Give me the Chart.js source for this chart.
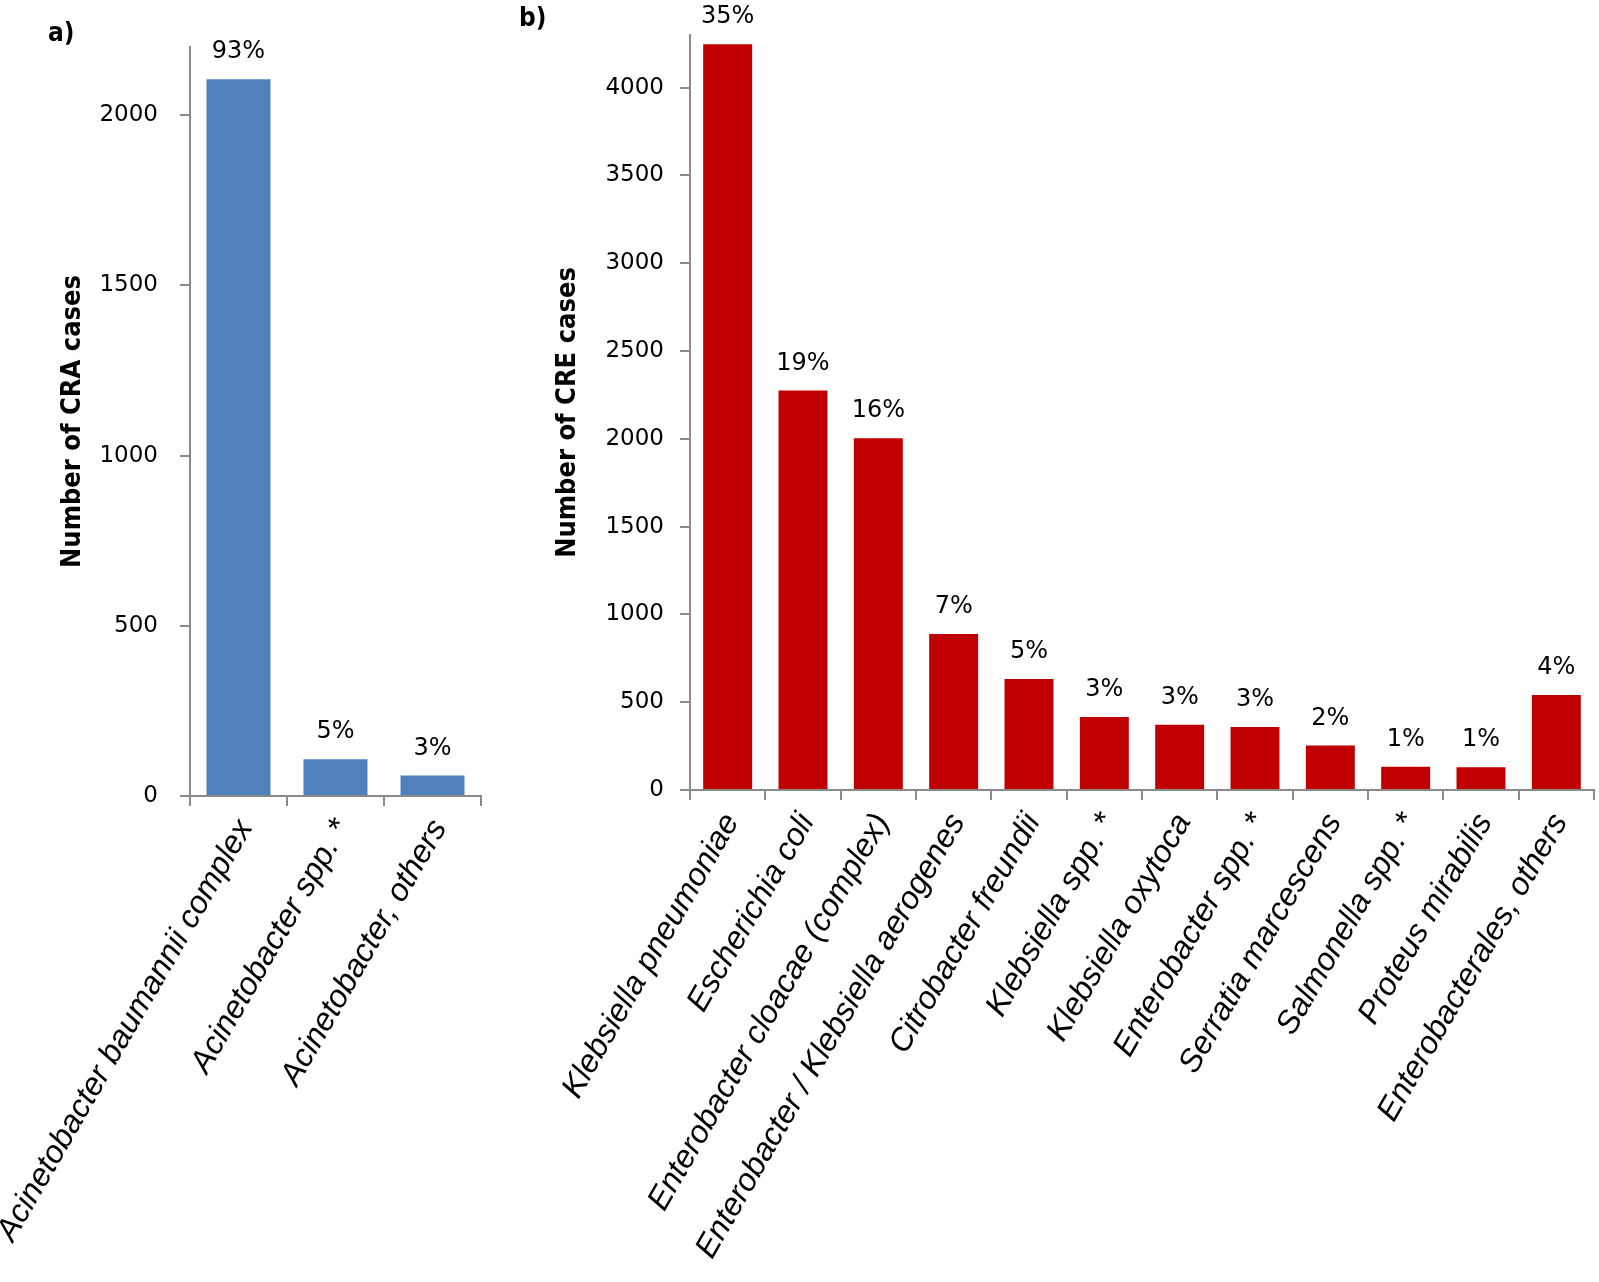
<!DOCTYPE html>
<html>
<head>
<meta charset="utf-8">
<script src="https://cdn.jsdelivr.net/npm/chart.js@4.4.1/dist/chart.umd.min.js"></script>
<style>
  body { margin: 0; background: #fff; }
  #wrap { position: relative; width: 1599px; height: 1282px; }
  canvas { position: absolute; top: 0; }
  #craChart { left: 0; }
  #creChart { left: 500px; }
  .panel { position: absolute; line-height: 1; font: bold 26px "DejaVu Sans Condensed", "DejaVu Sans", sans-serif; }
</style>
</head>
<body>
<div id="wrap">
  <canvas id="craChart" width="500" height="1282"></canvas>
  <canvas id="creChart" width="1099" height="1282"></canvas>
  <div class="panel" style="left:48px; top:17px;">a)</div>
  <div class="panel" style="left:519px; top:2px;">b)</div>
</div>
<script>
// a) carbapenem-resistant Acinetobacter
const craLabels = ['Acinetobacter baumannii complex', 'Acinetobacter spp. *', 'Acinetobacter, others'];
const craCases = [2105, 108, 60];
const craPct = ['93%', '5%', '3%'];

// b) carbapenem-resistant Enterobacterales
const creLabels = [
    'Klebsiella pneumoniae', 'Escherichia coli', 'Enterobacter cloacae (complex)',
    'Enterobacter / Klebsiella aerogenes', 'Citrobacter freundii', 'Klebsiella spp. *',
    'Klebsiella oxytoca', 'Enterobacter spp. *', 'Serratia marcescens',
    'Salmonella spp. *', 'Proteus mirabilis', 'Enterobacterales, others'
];
const creCases = [4247, 2275, 2003, 888, 632, 416, 372, 359, 253, 133, 129, 541];
const crePct = ['35%', '19%', '16%', '7%', '5%', '3%', '3%', '3%', '2%', '1%', '1%', '4%'];

const yTicks = [0, 500, 1000, 1500, 2000, 2500, 3000, 3500, 4000];

const axisGray = '#8a8a8a';

// percentage text above every bar
const pctLabelPlugin = {
    id: 'pctLabels',
    afterDatasetsDraw(chart, args, opts) {
        const ctx = chart.ctx;
        const bars = chart.getDatasetMeta(0).data;
        ctx.save();
        ctx.font = '24px "DejaVu Sans", sans-serif';
        ctx.fillStyle = '#000';
        ctx.textAlign = 'center';
        ctx.textBaseline = 'alphabetic';
        bars.forEach((bar, i) => {
            ctx.fillText(opts.labels[i], bar.x, bar.y - 21);
        });
        ctx.restore();
    }
};

function barChart(canvasId, labels, values, pct, color, yMax, yTitle, p) {
    return new Chart(document.getElementById(canvasId), {
        type: 'bar',
        data: {
            labels: labels,
            datasets: [{
                data: values,
                backgroundColor: color,
                barPercentage: 1,
                categoryPercentage: p.barShare
            }]
        },
        options: {
            responsive: false,
            animation: false,
            layout: { padding: { top: p.top, right: p.right, left: 0, bottom: 0 } },
            plugins: {
                legend: { display: false },
                tooltip: { enabled: false },
                pctLabels: { labels: pct }
            },
            scales: {
                x: {
                    offset: true,
                    ticks: {
                        autoSkip: false, minRotation: 60, maxRotation: 60, padding: 7, labelOffset: p.labelShift,
                        color: '#000',
                        font: { family: 'Liberation Sans', style: 'italic', size: 32 }
                    },
                    grid: { offset: true, drawOnChartArea: false, tickLength: 10, color: axisGray, lineWidth: 2 },
                    border: { display: true, color: axisGray, width: 2 },
                    afterFit: s => { s.height = 1282 - p.bottom; s.paddingLeft = 0; s.paddingRight = 0; }
                },
                y: {
                    min: 0,
                    max: yMax,
                    afterBuildTicks: s => { s.ticks = yTicks.filter(v => v <= yMax).map(v => ({ value: v })); },
                    ticks: {
                        padding: p.tickPad, color: '#000', font: { family: 'DejaVu Sans', size: 23 },
                        callback: v => String(v)
                    },
                    grid: { drawOnChartArea: false, tickLength: 10, color: axisGray, lineWidth: 2 },
                    border: { display: true, color: axisGray, width: 2 },
                    title: {
                        display: true, text: yTitle, color: '#000',
                        font: { family: 'DejaVu Sans Condensed', weight: 'bold', size: 27 },
                        padding: { top: p.titleX - 16, bottom: 0 }
                    },
                    afterFit: s => { s.width = 190; s.paddingTop = 0; s.paddingBottom = 0; }
                }
            }
        },
        plugins: [pctLabelPlugin]
    });
}

// --- a) CRA chart ---
barChart('craChart', craLabels, craCases, craPct, '#4f81bd', 2200, 'Number of CRA cases',
    { top: 47, right: 19, bottom: 796, barShare: 0.66, tickPad: 22, titleX: 73, labelShift: 7 });

// --- b) CRE chart ---
barChart('creChart', creLabels, creCases, crePct, '#c00000', 4300, 'Number of CRE cases',
    { top: 35, right: 5, bottom: 790, barShare: 0.65, tickPad: 16, titleX: 68, labelShift: 4 });
</script>
</body>
</html>
